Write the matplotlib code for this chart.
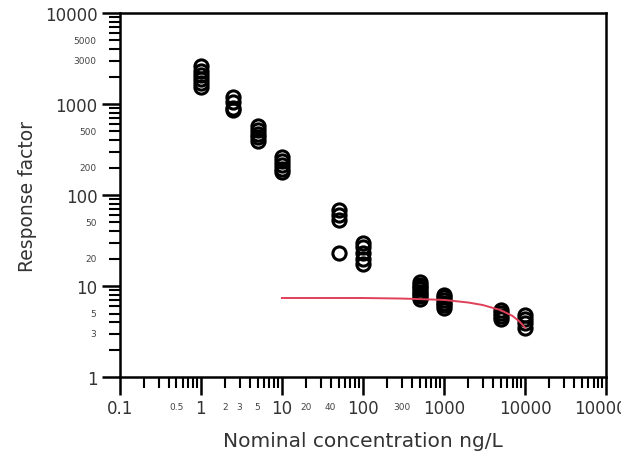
import matplotlib
matplotlib.use("Agg")
import matplotlib.pyplot as plt
from matplotlib.ticker import FixedLocator, FixedFormatter, NullFormatter

plt.rcParams["font.family"] = ["DejaVu Sans"]

# nominal concentrations (ng/L) and measured response factors
conc = [1, 2.5, 5, 10, 50, 100, 500, 1000, 5000, 10000]
response = [
    [2600, 2300, 2100, 1900, 1700, 1550],
    [1200, 1050, 900, 860],
    [580, 520, 470, 430, 390],
    [260, 235, 215, 195, 180],
    [68, 60, 53, 23],
    [30, 27, 23, 20, 17.5],
    [11, 10.4, 9.8, 9.2, 8.7, 8.2, 7.7, 7.2],
    [8.0, 7.5, 7.0, 6.6, 6.2, 5.8],
    [5.5, 5.1, 4.7, 4.4],
    [4.8, 4.3, 3.9, 3.5],
]

# fitted curve
fit_x = [10, 100, 300, 1000, 2000, 3000, 5000, 7000, 8500, 10000]
fit_y = [7.4, 7.4, 7.3, 7.05, 6.6, 6.2, 5.45, 4.7, 4.1, 3.5]

xmajor = [0.1, 1, 10, 100, 1000, 10000, 100000]
xmajor_labels = ["0.1", "1", "10", "100", "1000", "10000", "100000"]
xminor_labeled = [0.5, 2, 3, 5, 20, 40, 300]
ymajor = [1, 10, 100, 1000, 10000]
yminor_labeled = [3, 5, 20, 50, 200, 500, 3000, 5000]

fig = plt.figure(figsize=(6.21, 4.64), dpi=100)
ax = fig.add_axes([0.193, 0.185, 0.783, 0.785])

for c, vals in zip(conc, response):
    ax.plot([c] * len(vals), vals, linestyle="None", marker="o",
            markersize=9.5, markerfacecolor="none", markeredgecolor="black",
            markeredgewidth=2.2)

ax.plot(fit_x, fit_y, color="#e0405a", lw=1.4)

ax.set_xscale("log")
ax.set_yscale("log")
ax.set_xlim(0.1, 100000)
ax.set_ylim(1, 10000)

ax.xaxis.set_major_locator(FixedLocator(xmajor))
ax.xaxis.set_major_formatter(FixedFormatter(xmajor_labels))
xminor = [m * 10.0 ** e for e in range(-1, 5) for m in range(2, 10)]
ax.xaxis.set_minor_locator(FixedLocator(xminor))
ax.xaxis.set_minor_formatter(NullFormatter())

ax.yaxis.set_major_locator(FixedLocator(ymajor))
ax.yaxis.set_major_formatter(FixedFormatter([str(v) for v in ymajor]))
yminor = [m * 10.0 ** e for e in range(0, 4) for m in range(2, 10)]
ax.yaxis.set_minor_locator(FixedLocator(yminor))
ax.yaxis.set_minor_formatter(NullFormatter())

# small labels on some minor ticks
for v in xminor_labeled:
    ax.text(v, -0.068, str(v), transform=ax.get_xaxis_transform(),
            ha="center", va="top", fontsize=6.5, color="#444444")
for v in yminor_labeled:
    ax.text(-0.048, v, str(v), transform=ax.get_yaxis_transform(),
            ha="right", va="center", fontsize=6.5, color="#444444")

ax.tick_params(which="major", direction="out", length=13, width=1.8,
               labelsize=12, colors="black", labelcolor="#333333", pad=3)
ax.tick_params(which="minor", direction="out", length=8, width=1.5)
ax.tick_params(top=False, right=False)

for s in ax.spines.values():
    s.set_linewidth(1.8)

ax.set_xlabel("Nominal concentration ng/L", fontsize=14.5, color="#333333",
              labelpad=10)
ax.set_ylabel("Response factor", fontsize=13.5, color="#333333", labelpad=6)

fig.savefig("out.png", dpi=100)
